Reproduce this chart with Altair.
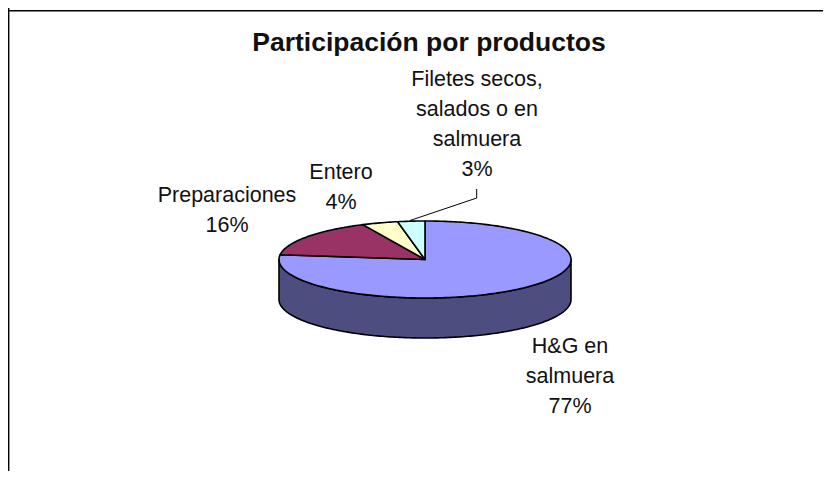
import math
import altair as alt
import pandas as pd

categories = ["H&G en\nsalmuera", "Preparaciones", "Entero", "Filetes secos,\nsalados o en\nsalmuera"]
shares = [77, 16, 4, 3]
colors = ["#9999FF", "#993366", "#FFFFCC", "#CCFFFF"]
side_color = "#4D4D80"
title_text = "Participación por productos"

W, H = 815, 463
CX, CY, RX, RY, DEPTH = 417.0, 251.5, 146.0, 38.5, 40.0
FONT = "Liberation Sans"


def pt(frac, dy=0.0):
    a = 2 * math.pi * frac
    return [CX + RX * math.sin(a), CY - RY * math.cos(a) + dy]


def arc(f0, f1, dy=0.0):
    n = max(2, int(abs(f1 - f0) * 360))
    return [pt(f0 + (f1 - f0) * i / n, dy) for i in range(n + 1)]


features = []
side = arc(0.25, 0.75) + arc(0.75, 0.25, DEPTH)
side.append(side[0])
features.append({"type": "Feature", "properties": {"name": "side"},
                 "geometry": {"type": "Polygon", "coordinates": [side]}})
start = 0.0
for name, v in zip(categories, shares):
    f1 = start + v / 100
    ring = [[CX, CY]] + arc(start, f1) + [[CX, CY]]
    features.append({"type": "Feature", "properties": {"name": name},
                     "geometry": {"type": "Polygon", "coordinates": [ring]}})
    start = f1

pie = (
    alt.Chart(alt.InlineData(values={"type": "FeatureCollection", "features": features},
                             format=alt.DataFormat(property="features", type="json")))
    .mark_geoshape(stroke="black", strokeWidth=1.6, strokeJoin="round")
    .encode(color=alt.Color("properties.name:N",
                            scale=alt.Scale(domain=["side"] + categories, range=[side_color] + colors),
                            legend=None))
    .project(type="identity", scale=1, translate=[0, 0])
)


def rule(x, x2, y, y2, sw=1.0):
    return alt.Chart(pd.DataFrame({"a": [0]})).mark_rule(color="black", strokeWidth=sw).encode(
        x=alt.value(x), x2=alt.value(x2), y=alt.value(y), y2=alt.value(y2))


def text(label, x, y, size, bold=False):
    return alt.Chart(pd.DataFrame({"label": [label]})).mark_text(
        font=FONT, fontSize=size, fontWeight="bold" if bold else "normal", color="#111111",
        align="center", baseline="alphabetic", lineBreak="\n", lineHeight=30,
    ).encode(text="label:N", x=alt.value(x), y=alt.value(y))


layers = [
    rule(0.6, 0.6, 0, H, 1.6),
    rule(0, W, 2.8, 2.8, 1.6),
    pie,
    rule(468.7, 468.7, 181, 190),
    rule(468.7, 402, 190, 212.5),
    text(title_text, 421, 43, 26.5, True),
    text(f"{categories[3]}\n{shares[3]}%", 469, 77.5, 21.5),
    text(f"{categories[2]}\n{shares[2]}%", 333, 170.5, 21.5),
    text(f"{categories[1]}\n{shares[1]}%", 219, 194, 21.5),
    text(f"{categories[0]}\n{shares[0]}%", 562, 345, 21.5),
]

chart = alt.layer(*layers).properties(
    width=W, height=H, padding=0, autosize=alt.AutoSizeParams(type="none")
).configure_view(stroke=None)

chart.save("out.html", embed_options={"renderer": "svg", "actions": False})
